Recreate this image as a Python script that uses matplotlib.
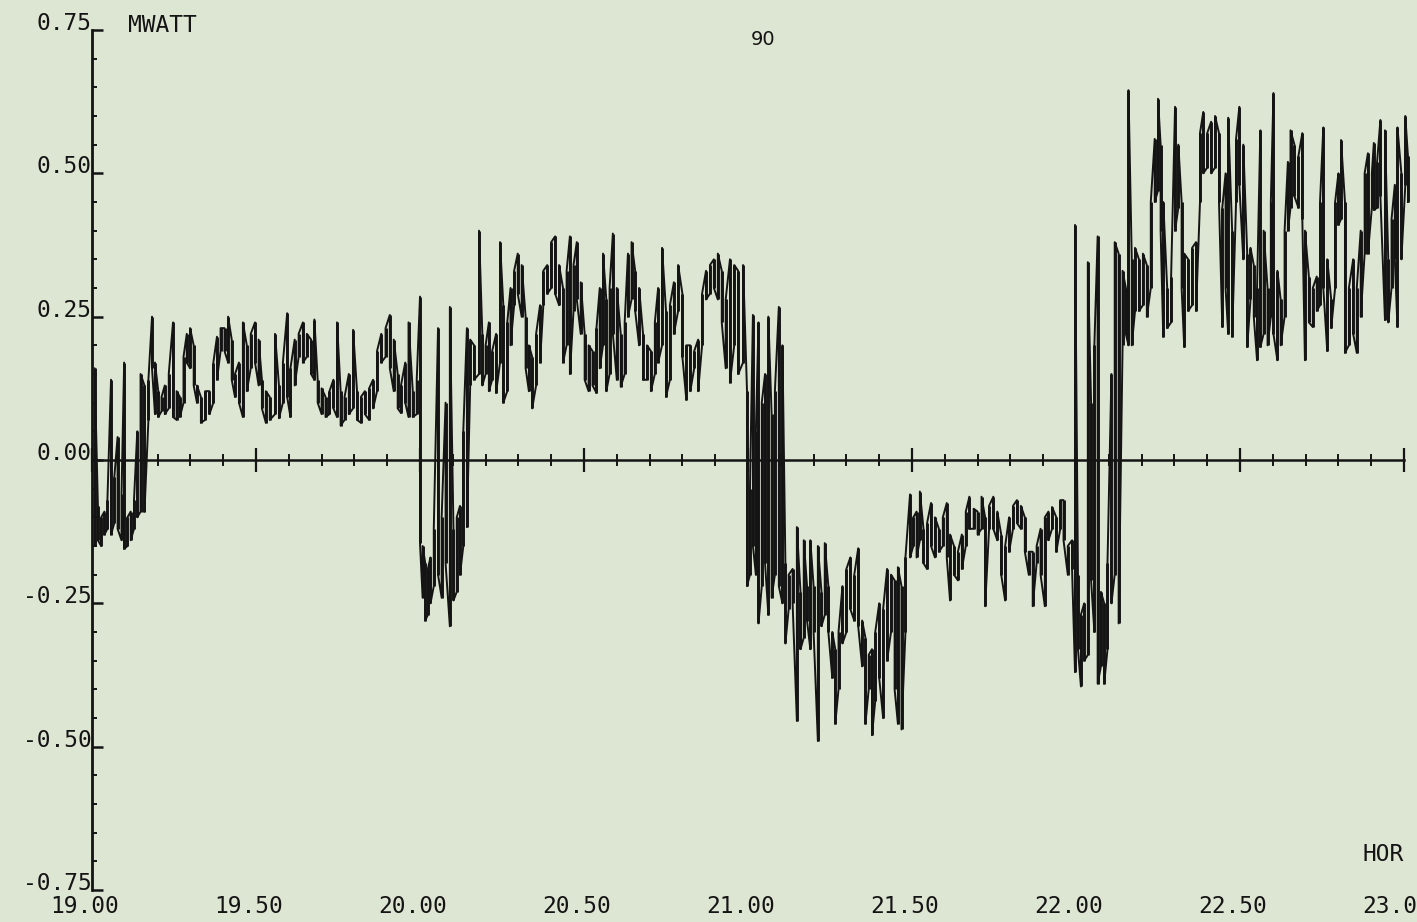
import matplotlib
matplotlib.use("Agg")
import matplotlib.pyplot as plt
from matplotlib.ticker import FixedLocator, MultipleLocator, FuncFormatter
from matplotlib.transforms import ScaledTranslation

# Recorder strokes: (hour, lowest MW, highest MW) of each stroke of the pen.
# 19.00 - 19.18: start-up swing below zero
seg_start = [
    (19.008, -0.15, 0.16), (19.018, -0.14, -0.08), (19.028, -0.15, -0.10),
    (19.038, -0.13, -0.09), (19.047, -0.12, -0.07), (19.058, -0.13, 0.14),
    (19.068, -0.11, -0.03), (19.078, -0.12, 0.04), (19.090, -0.14, -0.06),
    (19.098, -0.155, 0.17), (19.108, -0.15, -0.10), (19.118, -0.14, -0.09),
    (19.128, -0.12, -0.07), (19.138, -0.10, 0.05), (19.148, -0.09, 0.15),
    (19.160, -0.09, 0.13), (19.172, 0.07, 0.14),
]
# 19.18 - 20.00: low positive load
seg_evening = [
    (19.183, 0.16, 0.25), (19.192, 0.08, 0.17), (19.202, 0.075, 0.12),
    (19.212, 0.085, 0.11), (19.222, 0.08, 0.13), (19.234, 0.09, 0.15),
    (19.247, 0.075, 0.24), (19.258, 0.07, 0.12), (19.268, 0.075, 0.11),
    (19.279, 0.10, 0.18), (19.289, 0.17, 0.22), (19.299, 0.16, 0.23),
    (19.310, 0.13, 0.20), (19.320, 0.10, 0.13), (19.332, 0.065, 0.11),
    (19.345, 0.07, 0.12), (19.358, 0.08, 0.12), (19.370, 0.10, 0.17),
    (19.381, 0.14, 0.215), (19.392, 0.19, 0.23), (19.404, 0.19, 0.23),
    (19.415, 0.17, 0.25), (19.426, 0.14, 0.21), (19.436, 0.11, 0.15),
    (19.448, 0.10, 0.17), (19.460, 0.075, 0.24), (19.472, 0.12, 0.20),
    (19.484, 0.16, 0.22), (19.497, 0.17, 0.24), (19.508, 0.13, 0.21),
    (19.518, 0.09, 0.14), (19.530, 0.065, 0.12), (19.542, 0.07, 0.11),
    (19.558, 0.08, 0.22), (19.570, 0.073, 0.13), (19.582, 0.10, 0.17),
    (19.595, 0.11, 0.256), (19.605, 0.075, 0.16), (19.618, 0.13, 0.21),
    (19.630, 0.18, 0.22), (19.643, 0.17, 0.24), (19.655, 0.18, 0.22),
    (19.668, 0.15, 0.21), (19.678, 0.14, 0.245), (19.688, 0.10, 0.14),
    (19.700, 0.08, 0.125), (19.712, 0.075, 0.11), (19.724, 0.08, 0.12),
    (19.736, 0.09, 0.14), (19.747, 0.075, 0.24), (19.758, 0.06, 0.12),
    (19.770, 0.07, 0.11), (19.783, 0.08, 0.15), (19.796, 0.09, 0.227),
    (19.808, 0.07, 0.12), (19.820, 0.065, 0.11), (19.832, 0.08, 0.12),
    (19.845, 0.07, 0.125), (19.857, 0.09, 0.14), (19.869, 0.12, 0.19),
    (19.882, 0.17, 0.22), (19.895, 0.18, 0.23), (19.908, 0.16, 0.253),
    (19.920, 0.12, 0.21), (19.932, 0.09, 0.15), (19.942, 0.082, 0.13),
    (19.955, 0.10, 0.17), (19.965, 0.075, 0.24), (19.978, 0.075, 0.12),
    (19.990, 0.08, 0.14),
]
# 20.00 - 20.17: short reversal
seg_dip_20 = [
    (20.000, -0.145, 0.285), (20.008, -0.24, -0.15), (20.016, -0.28, -0.18),
    (20.024, -0.27, -0.19), (20.032, -0.25, -0.17), (20.042, -0.22, -0.12),
    (20.055, -0.20, 0.23), (20.066, -0.24, -0.10), (20.078, -0.18, 0.10),
    (20.091, -0.29, 0.267), (20.102, -0.245, -0.12), (20.112, -0.23, -0.10),
    (20.122, -0.20, -0.08), (20.132, -0.15, 0.05), (20.143, -0.117, 0.23),
    (20.153, 0.13, 0.21), (20.165, 0.14, 0.20),
]
# 20.17 - 21.00: higher positive load
seg_high_20 = [
    (20.180, 0.15, 0.40), (20.190, 0.13, 0.22), (20.200, 0.15, 0.20),
    (20.210, 0.12, 0.24), (20.220, 0.14, 0.19), (20.232, 0.117, 0.22),
    (20.244, 0.17, 0.38), (20.254, 0.10, 0.27), (20.266, 0.12, 0.24),
    (20.276, 0.20, 0.30), (20.287, 0.27, 0.33), (20.298, 0.29, 0.36),
    (20.310, 0.25, 0.34), (20.322, 0.16, 0.25), (20.332, 0.12, 0.20),
    (20.342, 0.09, 0.18), (20.354, 0.13, 0.22), (20.366, 0.17, 0.27),
    (20.376, 0.27, 0.33), (20.388, 0.29, 0.34), (20.400, 0.30, 0.38),
    (20.412, 0.29, 0.39), (20.424, 0.27, 0.34), (20.436, 0.17, 0.30),
    (20.447, 0.20, 0.33), (20.457, 0.15, 0.39), (20.468, 0.26, 0.34),
    (20.478, 0.28, 0.38), (20.490, 0.22, 0.31), (20.502, 0.14, 0.22),
    (20.514, 0.12, 0.20), (20.526, 0.13, 0.19), (20.538, 0.117, 0.23),
    (20.548, 0.16, 0.30), (20.558, 0.20, 0.36), (20.568, 0.12, 0.28),
    (20.578, 0.15, 0.30), (20.588, 0.22, 0.395), (20.600, 0.14, 0.30),
    (20.612, 0.128, 0.22), (20.624, 0.15, 0.24), (20.634, 0.25, 0.36),
    (20.645, 0.28, 0.38), (20.656, 0.26, 0.33), (20.668, 0.20, 0.30),
    (20.680, 0.14, 0.22), (20.692, 0.14, 0.20), (20.704, 0.12, 0.19),
    (20.716, 0.15, 0.24), (20.726, 0.17, 0.30), (20.738, 0.20, 0.37),
    (20.750, 0.11, 0.26), (20.762, 0.14, 0.27), (20.774, 0.22, 0.31),
    (20.787, 0.26, 0.34), (20.800, 0.18, 0.29), (20.812, 0.105, 0.20),
    (20.824, 0.12, 0.20), (20.836, 0.16, 0.19), (20.848, 0.12, 0.21),
    (20.860, 0.20, 0.29), (20.872, 0.28, 0.33), (20.884, 0.29, 0.34),
    (20.896, 0.30, 0.35), (20.908, 0.28, 0.36), (20.920, 0.24, 0.33),
    (20.932, 0.16, 0.28), (20.945, 0.135, 0.35), (20.958, 0.20, 0.34),
    (20.970, 0.15, 0.33), (20.985, 0.17, 0.34),
]
# 21.00 - 21.49: deep reversal
seg_low_21 = [
    (20.997, -0.22, 0.12), (21.006, -0.20, -0.05), (21.015, -0.15, 0.253),
    (21.024, -0.20, 0.05), (21.032, -0.285, 0.24), (21.042, -0.22, 0.10),
    (21.052, -0.18, 0.15), (21.062, -0.27, 0.25), (21.072, -0.24, 0.08),
    (21.082, -0.20, 0.12), (21.094, -0.22, 0.267), (21.105, -0.25, 0.20),
    (21.114, -0.32, -0.18), (21.124, -0.26, -0.20), (21.136, -0.25, -0.19),
    (21.149, -0.455, -0.117), (21.160, -0.33, -0.23), (21.170, -0.31, -0.14),
    (21.180, -0.28, -0.22), (21.190, -0.33, -0.14), (21.200, -0.30, -0.22),
    (21.213, -0.49, -0.15), (21.224, -0.29, -0.23), (21.234, -0.27, -0.145),
    (21.245, -0.30, -0.22), (21.257, -0.38, -0.30), (21.266, -0.46, -0.33),
    (21.276, -0.40, -0.30), (21.288, -0.32, -0.22), (21.300, -0.30, -0.19),
    (21.312, -0.26, -0.17), (21.324, -0.28, -0.20), (21.336, -0.29, -0.154),
    (21.348, -0.36, -0.28), (21.358, -0.46, -0.31), (21.368, -0.40, -0.34),
    (21.378, -0.48, -0.33), (21.388, -0.42, -0.30), (21.400, -0.38, -0.25),
    (21.412, -0.45, -0.26), (21.424, -0.35, -0.19), (21.436, -0.30, -0.20),
    (21.447, -0.40, -0.21), (21.457, -0.46, -0.187), (21.468, -0.47, -0.22),
    (21.480, -0.30, -0.17),
]
# 21.49 - 22.00: moderate reversal
seg_mid_21 = [
    (21.494, -0.17, -0.06), (21.504, -0.15, -0.10), (21.514, -0.17, -0.09),
    (21.524, -0.14, -0.055), (21.535, -0.18, -0.12), (21.546, -0.19, -0.11),
    (21.558, -0.15, -0.075), (21.570, -0.17, -0.10), (21.582, -0.16, -0.12),
    (21.594, -0.15, -0.10), (21.606, -0.17, -0.075), (21.616, -0.245, -0.13),
    (21.628, -0.20, -0.15), (21.640, -0.21, -0.16), (21.652, -0.19, -0.13),
    (21.664, -0.15, -0.09), (21.675, -0.12, -0.064), (21.688, -0.12, -0.085),
    (21.700, -0.13, -0.09), (21.712, -0.12, -0.064), (21.723, -0.255, -0.10),
    (21.735, -0.12, -0.08), (21.748, -0.12, -0.064), (21.760, -0.14, -0.09),
    (21.772, -0.20, -0.13), (21.784, -0.245, -0.15), (21.796, -0.16, -0.10),
    (21.808, -0.12, -0.08), (21.820, -0.11, -0.07), (21.832, -0.12, -0.08),
    (21.844, -0.16, -0.10), (21.856, -0.20, -0.16), (21.868, -0.255, -0.16),
    (21.880, -0.18, -0.15), (21.892, -0.20, -0.12), (21.905, -0.255, -0.10),
    (21.916, -0.14, -0.09), (21.927, -0.12, -0.082), (21.940, -0.16, -0.10),
    (21.952, -0.12, -0.07), (21.962, -0.14, -0.07), (21.975, -0.20, -0.15),
    (21.988, -0.19, -0.14),
]
# 22.00 - 22.21: swing back to positive
seg_swing_22 = [
    (21.997, -0.37, 0.41), (22.006, -0.33, -0.20), (22.015, -0.395, -0.27),
    (22.025, -0.35, -0.25), (22.036, -0.34, 0.345), (22.046, -0.21, 0.10),
    (22.056, -0.30, 0.20), (22.066, -0.39, 0.39), (22.076, -0.36, -0.23),
    (22.086, -0.39, -0.25), (22.096, -0.33, -0.18), (22.108, -0.25, 0.15),
    (22.118, -0.20, 0.38), (22.130, -0.285, 0.36), (22.142, 0.20, 0.33),
    (22.152, 0.22, 0.30), (22.160, 0.20, 0.645), (22.170, 0.20, 0.35),
    (22.180, 0.26, 0.37), (22.192, 0.26, 0.35), (22.204, 0.27, 0.36),
]
# 22.21 - 23.00: peak load
seg_peak_22 = [
    (22.216, 0.25, 0.34), (22.228, 0.30, 0.45), (22.240, 0.45, 0.56),
    (22.250, 0.47, 0.63), (22.258, 0.40, 0.55), (22.266, 0.215, 0.45),
    (22.278, 0.23, 0.30), (22.290, 0.24, 0.32), (22.302, 0.40, 0.616),
    (22.312, 0.44, 0.55), (22.322, 0.30, 0.45), (22.330, 0.197, 0.36),
    (22.342, 0.26, 0.35), (22.354, 0.27, 0.37), (22.366, 0.26, 0.38),
    (22.378, 0.45, 0.57), (22.388, 0.50, 0.607), (22.400, 0.51, 0.57),
    (22.412, 0.50, 0.59), (22.424, 0.51, 0.60), (22.436, 0.45, 0.57),
    (22.446, 0.232, 0.44), (22.456, 0.30, 0.50), (22.464, 0.22, 0.597),
    (22.476, 0.215, 0.40), (22.488, 0.45, 0.56), (22.498, 0.48, 0.616),
    (22.510, 0.35, 0.55), (22.522, 0.197, 0.36), (22.532, 0.28, 0.37),
    (22.542, 0.25, 0.34), (22.552, 0.174, 0.30), (22.562, 0.197, 0.575),
    (22.572, 0.22, 0.40), (22.584, 0.20, 0.30), (22.594, 0.25, 0.45),
    (22.602, 0.22, 0.64), (22.614, 0.174, 0.33), (22.624, 0.20, 0.28),
    (22.636, 0.25, 0.40), (22.646, 0.40, 0.52), (22.654, 0.44, 0.575),
    (22.666, 0.46, 0.55), (22.678, 0.44, 0.53), (22.690, 0.42, 0.57),
    (22.698, 0.174, 0.40), (22.710, 0.24, 0.32), (22.722, 0.232, 0.30),
    (22.734, 0.26, 0.32), (22.744, 0.27, 0.45), (22.754, 0.30, 0.58),
    (22.766, 0.19, 0.35), (22.778, 0.23, 0.28), (22.790, 0.30, 0.45),
    (22.800, 0.41, 0.50), (22.808, 0.42, 0.558), (22.820, 0.187, 0.45),
    (22.832, 0.20, 0.30), (22.845, 0.22, 0.35), (22.856, 0.187, 0.30),
    (22.868, 0.25, 0.40), (22.880, 0.36, 0.50), (22.890, 0.36, 0.535),
    (22.902, 0.44, 0.50), (22.908, 0.436, 0.553), (22.918, 0.44, 0.52),
    (22.928, 0.46, 0.593), (22.942, 0.244, 0.575), (22.952, 0.24, 0.35),
    (22.962, 0.30, 0.42), (22.972, 0.35, 0.48), (22.980, 0.232, 0.58),
    (22.992, 0.35, 0.50), (23.004, 0.48, 0.60), (23.012, 0.45, 0.53),
]

y_ticks = [-0.75, -0.50, -0.25, 0.00, 0.25, 0.50, 0.75]
x_ticks = [19.0, 19.5, 20.0, 20.5, 21.0, 21.5, 22.0, 22.5, 23.0]
y_unit = "MWATT"
x_unit = "HOR"
page_no = "90"

PAPER = "#dde5d3"
INK = "#141414"
MONO = "DejaVu Sans Mono"

W, H = 1417, 922
fig = plt.figure(figsize=(W / 100, H / 100), dpi=100, facecolor=PAPER)
ax = fig.add_axes([92 / W, 32 / H, 1312 / W, 860 / H])
ax.set_facecolor(PAPER)
ax.set_xlim(19.0, 23.0)
ax.set_ylim(-0.75, 0.75)

# pen trace: each stroke runs low->high, alternating direction
strokes = seg_start + seg_evening + seg_dip_20 + seg_high_20 + seg_low_21 \
    + seg_mid_21 + seg_swing_22 + seg_peak_22
hours = [s[0] for s in strokes]
lows = [s[1] for s in strokes]
highs = [s[2] for s in strokes]
xs, ys = [], []
for i, (t, lo, hi) in enumerate(strokes):
    xs += [t, t]
    ys += [lo, hi] if i % 2 == 0 else [hi, lo]
ax.plot(xs, ys, color=INK, lw=1.4, clip_on=False, zorder=3)
ax.vlines(hours, lows, highs, color=INK, lw=2.1, clip_on=False, zorder=3)

# axes: vertical scale on the left, time axis through zero
for side in ("top", "right"):
    ax.spines[side].set_visible(False)
ax.spines["left"].set_linewidth(2.0)
ax.spines["left"].set_color(INK)
ax.spines["bottom"].set_position(("data", 0.0))
ax.spines["bottom"].set_linewidth(1.8)
ax.spines["bottom"].set_color(INK)

ax.xaxis.set_major_locator(FixedLocator(x_ticks))
ax.xaxis.set_minor_locator(MultipleLocator(0.1))
ax.tick_params(axis="x", which="major", direction="inout", length=17,
               width=1.6, color=INK, labelbottom=False)
ax.tick_params(axis="x", which="minor", direction="inout", length=9,
               width=1.4, color=INK)

ax.yaxis.set_major_locator(FixedLocator(y_ticks))
ax.yaxis.set_minor_locator(MultipleLocator(0.05))
ax.yaxis.set_major_formatter(FuncFormatter(lambda v, p: f"{v:.2f}"))
ax.tick_params(axis="y", which="major", direction="in", length=8,
               width=1.8, color=INK, pad=0.5, labelsize=16.5,
               labelcolor=INK, labelfontfamily=MONO)
ax.tick_params(axis="y", which="minor", direction="in", length=3.5,
               width=1.4, color=INK)
plt.setp(ax.get_yticklabels(), va="baseline")

# time labels along the bottom edge
shift = ScaledTranslation(-0.07, -0.05, fig.dpi_scale_trans)
for v in x_ticks:
    ax.text(v, 0.0, f"{v:.2f}", transform=ax.get_xaxis_transform() + shift,
            ha="center", va="top", fontsize=16.5, family=MONO, color=INK)

ax.text(19.11, 0.746, y_unit, ha="left", va="baseline", fontsize=16.5,
        family=MONO, color=INK)
ax.text(23.0, -0.70, x_unit, ha="right", va="baseline", fontsize=16.5,
        family=MONO, color=INK)
fig.text(763 / W, 1 - 45 / H, page_no, ha="center", va="baseline",
         fontsize=14, family="DejaVu Sans", color=INK)

fig.savefig("out.png", dpi=100, facecolor=PAPER)
